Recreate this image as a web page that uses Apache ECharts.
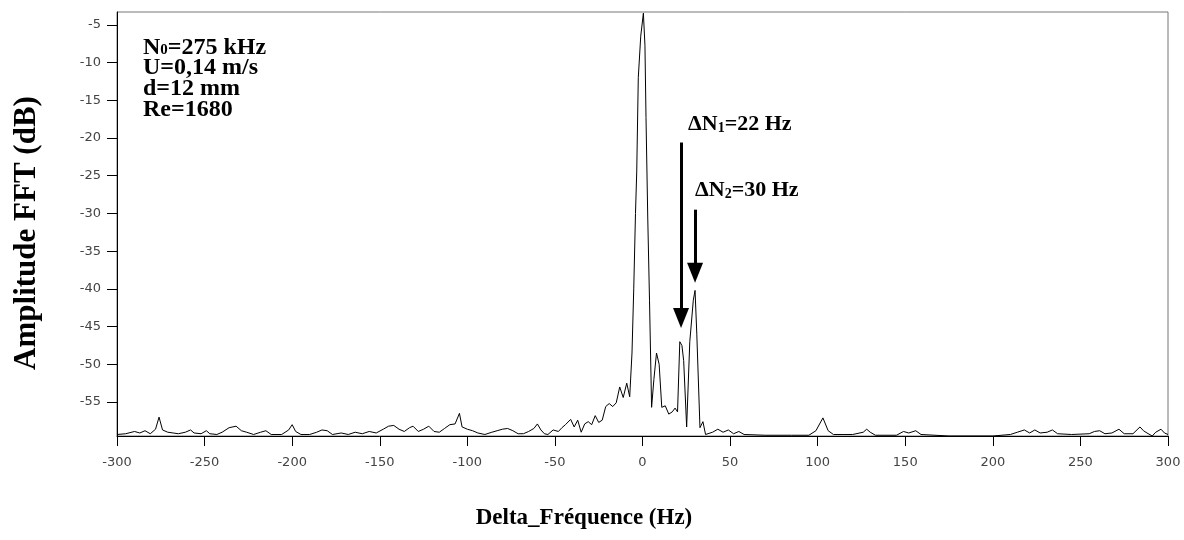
<!DOCTYPE html>
<html>
<head>
<meta charset="utf-8">
<script src="https://cdn.jsdelivr.net/npm/echarts@6/dist/echarts.min.js"></script>
<style>html,body{margin:0;padding:0;background:#fff;}#c{width:1184px;height:540px;}</style>
</head>
<body>
<div id="c"></div>
<script>
// Frequency offsets (Hz) and FFT amplitude (dB)
const freqs = [
  -300,-295,-290,-287,-284,-281,-278,-276,-274,-271,-268,-265,-261,-258,-256,-252,-249,-247,-243,-240,
  -236,-232,-229,-226,-222,-218,-215,-212,-206,-202,-200,-198,-195,-190,-186,-183,-180,-177,-172,-168,
  -164,-160,-156,-152,-148,-145,-142,-139,-136,-133,-131,-128,-125,-122,-119,-116,-113,-110,-107,-104.5,
  -103,-100,-97,-94,-90,-86,-83,-80,-77,-74,-71,-68,-65,-62,-60,-58,-56,-54,-51,-48,
  -46,-44,-41,-39,-37,-35,-33,-31,-29,-27,-25,-23,-21,-19,-17,-15,-13,-11,-9,-7.3,
  -6,-5,-4,-3.3,-2.4,-1,0.5,1.4,2,3,4,5.2,6.5,8,9.5,11,13,15,17,18.6,
  20,21.3,22.5,23.5,25.2,27,29,30,31,32.8,34.5,36,40,43,46,49,52,55,58,70,
  85,95,99,103,106,109,115,120,126,128,130,133,145,149,152,156,159,175,200,210,
  214,218,221,224,227,231,234,237,245,255,258,261,264,268,272,275,280,284,286,288,
  291,293,296,298,300
];
const amps = [
  -59.3,-59.2,-58.9,-59.1,-58.8,-59.2,-58.6,-57.0,-58.7,-59.0,-59.1,-59.2,-59.0,-58.7,-59.1,-59.2,-58.8,-59.2,-59.3,-59.0,
  -58.4,-58.2,-58.8,-59.0,-59.3,-59.0,-58.8,-59.3,-59.3,-58.7,-58.0,-58.9,-59.3,-59.3,-59.0,-58.7,-58.8,-59.3,-59.1,-59.3,
  -59.0,-59.2,-58.9,-59.1,-58.6,-58.2,-58.1,-58.6,-58.9,-58.4,-58.2,-58.9,-58.6,-58.2,-58.9,-59.0,-58.5,-58.0,-57.9,-56.5,
  -58.3,-58.6,-58.8,-59.1,-59.3,-59.0,-58.8,-58.6,-58.5,-58.8,-59.2,-59.2,-58.9,-58.5,-57.9,-58.7,-59.2,-59.3,-58.7,-58.9,
  -58.4,-58.0,-57.3,-58.3,-57.4,-59.0,-57.9,-57.6,-58.0,-56.8,-57.7,-57.4,-55.6,-55.2,-55.6,-55.1,-53.0,-54.4,-52.5,-54.3,
  -48.5,-40.0,-30.0,-24.5,-12.0,-6.5,-3.45,-7.7,-17.3,-30.6,-41.5,-55.7,-52.0,-48.5,-50.0,-55.7,-55.5,-56.6,-56.3,-55.8,
  -56.3,-47.0,-47.5,-49.5,-58.3,-47.0,-41.5,-40.2,-46.0,-58.4,-57.6,-59.3,-59.0,-58.6,-59.0,-58.7,-59.2,-58.9,-59.3,-59.4,
  -59.4,-59.4,-58.8,-57.1,-58.8,-59.3,-59.3,-59.3,-59.0,-58.6,-59.0,-59.4,-59.4,-58.9,-59.1,-58.8,-59.3,-59.5,-59.5,-59.3,
  -59.0,-58.7,-59.1,-58.7,-59.1,-59.0,-58.7,-59.2,-59.3,-59.2,-58.9,-58.8,-59.2,-59.1,-58.6,-59.2,-59.2,-58.3,-58.8,-59.1,
  -59.5,-59.0,-58.6,-59.1,-59.3
];
const xTicks = [-300,-250,-200,-150,-100,-50,0,50,100,150,200,250,300];
const yTicks = [-55,-50,-45,-40,-35,-30,-25,-20,-15,-10,-5];
// Arrow annotations: [x, yStart, yTip]
const arrow1 = [22, -20.6, -45.2];
const arrow2 = [30, -29.5, -39.2];

const chart = echarts.init(document.getElementById('c'));
const serif = '"Liberation Serif","DejaVu Serif",serif';
const labelFont = {color:'#444', fontSize:13, fontFamily:'"DejaVu Sans",sans-serif'};
const pts = freqs.map((f,i)=>[f, amps[i]]);
const tipOff = 10/7.54; // half arrowhead height in dB
chart.setOption({
  animation:false,
  grid:{left:117, right:16, top:12, bottom:104, show:true, borderColor:'#777', borderWidth:1},
  xAxis:{type:'value', min:-300, max:300,
    axisLine:{onZero:false, lineStyle:{color:'#000', width:1}},
    axisTick:{customValues:xTicks, length:10, lineStyle:{color:'#000'}},
    axisLabel:Object.assign({customValues:xTicks, margin:20}, labelFont),
    splitLine:{show:false}},
  yAxis:{type:'value', min:-59.5, max:-3.3,
    axisLine:{show:true, onZero:false, lineStyle:{color:'#000', width:1}},
    axisTick:{show:true, customValues:yTicks, length:10, lineStyle:{color:'#000'}},
    axisLabel:Object.assign({customValues:yTicks, margin:16}, labelFont),
    splitLine:{show:false}},
  series:[{type:'line', data:pts, symbol:'none', lineStyle:{color:'#000', width:1}, z:3,
    markLine:{silent:true, symbol:['none','triangle'], symbolSize:[16,20],
      lineStyle:{color:'#000', width:3, type:'solid'}, label:{show:false},
      data:[
        [{coord:[arrow1[0], arrow1[1]]},{coord:[arrow1[0], arrow1[2]+tipOff]}],
        [{coord:[arrow2[0], arrow2[1]]},{coord:[arrow2[0], arrow2[2]+tipOff]}]
      ]}
  }],
  graphic:[
    {type:'text', x:27, y:233, rotation:Math.PI/2,
      style:{text:'Amplitude FFT (dB)', fontFamily:serif, fontWeight:'bold', fontSize:31, fill:'#000', align:'center', verticalAlign:'middle'}},
    {type:'text', x:584, y:518,
      style:{text:'Delta_Fréquence (Hz)', fontFamily:serif, fontWeight:'bold', fontSize:23, fill:'#000', align:'center', verticalAlign:'middle'}},
    {type:'text', x:143, y:37,
      style:{text:'{b|N}{s|0}{b|=275 kHz}\n{b|U=0,14 m/s}\n{b|d=12 mm}\n{b|Re=1680}', fill:'#000',
        rich:{b:{fontFamily:serif, fontWeight:'bold', fontSize:24, lineHeight:20.7},
              s:{fontFamily:serif, fontWeight:'bold', fontSize:15, lineHeight:4, verticalAlign:'bottom'}}}},
    {type:'text', x:688, y:113,
      style:{text:'{b|ΔN}{s|1}{b|=22 Hz}', fill:'#000',
        rich:{b:{fontFamily:serif, fontWeight:'bold', fontSize:22, lineHeight:22},
              s:{fontFamily:serif, fontWeight:'bold', fontSize:14, lineHeight:6, verticalAlign:'bottom'}}}},
    {type:'text', x:695, y:179,
      style:{text:'{b|ΔN}{s|2}{b|=30 Hz}', fill:'#000',
        rich:{b:{fontFamily:serif, fontWeight:'bold', fontSize:22, lineHeight:22},
              s:{fontFamily:serif, fontWeight:'bold', fontSize:14, lineHeight:6, verticalAlign:'bottom'}}}}
  ]
});
</script>
</body>
</html>
